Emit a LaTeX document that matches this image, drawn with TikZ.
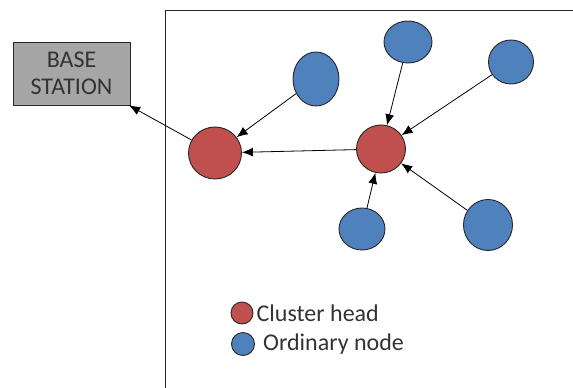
\documentclass[tikz,border=0pt]{standalone}
\usepackage{fontspec}
\setmainfont{Carlito}
\usetikzlibrary{shapes.geometric,arrows.meta}
\definecolor{headred}{HTML}{C0504D}
\definecolor{nodeblue}{HTML}{4F81BD}
\definecolor{stationgray}{HTML}{A6A6A6}
\tikzset{
  head/.style={ellipse,draw=black!85,fill=headred,inner sep=0pt,line width=0.9pt},
  ordinary/.style={ellipse,draw=black!85,fill=nodeblue,inner sep=0pt,line width=0.9pt},
  link/.style={-{Latex[length=11pt,width=9pt]},line width=0.8pt},
  label text/.style={font=\fontsize{24}{27}\selectfont,text=black!80}
}
\begin{document}
\begin{tikzpicture}[x=1pt,y=-1pt]
  \useasboundingbox (0,0) rectangle (573,388);
  % field border
  \draw[line width=0.9pt,black!85] (165,388) -- (165,10) -- (573,10);
  % base station
  \node[draw=black!85,line width=0.9pt,fill=stationgray,minimum width=117pt,minimum height=63pt,align=center,label text] (bs) at (71.5,73.5) {BASE\\STATION};
  % cluster heads
  \node[head,minimum width=53pt,minimum height=52pt] (chleft) at (215,153) {};
  \node[head,minimum width=49pt,minimum height=48pt] (chright) at (381,149) {};
  % ordinary nodes
  \node[ordinary,minimum width=46pt,minimum height=54pt] (on1) at (316,79) {};
  \node[ordinary,minimum width=48pt,minimum height=42pt] (on2) at (408,42) {};
  \node[ordinary,minimum width=45pt,minimum height=44pt] (on3) at (511,62) {};
  \node[ordinary,minimum width=46pt,minimum height=42pt] (on4) at (362,229) {};
  \node[ordinary,minimum width=49pt,minimum height=51pt] (on5) at (488,225) {};
  % links
  \draw[link] (chleft) -- (bs);
  \draw[link] (on1) -- (chleft);
  \draw[link] (chright) -- (chleft);
  \draw[link] (on2) -- (chright);
  \draw[link] (on3) -- (chright);
  \draw[link] (on4) -- (chright);
  \draw[link] (on5) -- (chright);
  % key
  \node[head,minimum size=22pt] (keyhead) at (242,313) {};
  \node[ordinary,minimum size=23pt] (keyordinary) at (243,344) {};
  \node[label text,anchor=west,inner sep=0pt] (keyheadtext) at ([xshift=3pt]keyhead.east) {Cluster head};
  \node[label text,anchor=west,inner sep=0pt] (keyordinarytext) at ([xshift=8pt]keyordinary.east) {Ordinary node};
\end{tikzpicture}
\end{document}
